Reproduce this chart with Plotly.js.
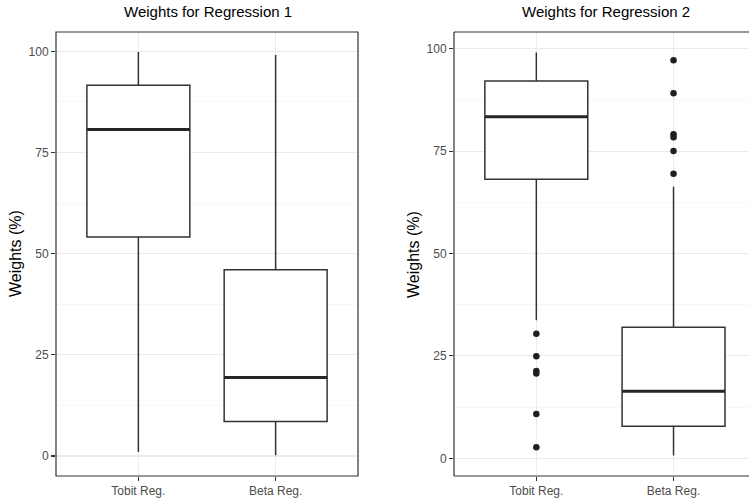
<!DOCTYPE html>
<html>
<head>
<meta charset="utf-8">
<script src="https://cdn.plot.ly/plotly-3.0.1.min.js"></script>
<style>html,body{margin:0;padding:0;background:#fff;}#chart{width:749px;height:502px;}</style>
</head>
<body>
<div id="chart"></div>
<script>
// Categories and tick labels
const categories = [1, 2];
const tickLabels = ["Tobit Reg.", "Beta Reg."];
const panelTitles = ["Weights for Regression 1", "Weights for Regression 2"];
const yTitle = "Weights (%)";

// Regression 1 box statistics (Tobit, Beta)
const r1Lower  = [1.0, 0.2];
const r1Q1     = [54.1, 8.5];
const r1Median = [80.7, 19.4];
const r1Q3     = [91.6, 46.0];
const r1Upper  = [99.8, 99.1];

// Regression 2 box statistics (Tobit, Beta)
const r2Lower  = [33.7, 0.7];
const r2Q1     = [68.1, 7.8];
const r2Median = [83.4, 16.4];
const r2Q3     = [92.1, 32.0];
const r2Upper  = [99.1, 66.3];

// Regression 2 outliers
const r2TobitOutliers = [30.4, 24.9, 21.3, 20.7, 10.8, 2.7];
const r2BetaOutliers  = [97.2, 89.1, 79.1, 78.4, 75.0, 69.5];

const lineCol = "#333333";
const boxW = 0.75;

function boxTrace(q1, med, q3, lo, hi, xa, ya) {
  return {
    type: "box", x: categories, q1: q1, median: med, q3: q3,
    lowerfence: lo, upperfence: hi, width: boxW, whiskerwidth: 0,
    fillcolor: "#ffffff", line: {color: lineCol, width: 1.5},
    boxpoints: false, xaxis: xa, yaxis: ya, showlegend: false, hoverinfo: "skip"
  };
}
function medianTrace(med, xa, ya) {
  const xs = [], ys = [];
  categories.forEach((c, i) => {
    xs.push(c - boxW / 2, c + boxW / 2, null);
    ys.push(med[i], med[i], null);
  });
  return {type: "scatter", mode: "lines", x: xs, y: ys,
    line: {color: "#262626", width: 3}, xaxis: xa, yaxis: ya,
    showlegend: false, hoverinfo: "skip"};
}
function outlierTrace(vals, cat, xa, ya) {
  return {type: "scatter", mode: "markers", x: vals.map(() => cat), y: vals,
    marker: {color: "#1f1f1f", size: 6.5}, xaxis: xa, yaxis: ya,
    showlegend: false, hoverinfo: "skip"};
}

const data = [
  boxTrace(r1Q1, r1Median, r1Q3, r1Lower, r1Upper, "x", "y"),
  medianTrace(r1Median, "x", "y"),
  boxTrace(r2Q1, r2Median, r2Q3, r2Lower, r2Upper, "x2", "y2"),
  medianTrace(r2Median, "x2", "y2"),
  outlierTrace(r2TobitOutliers, categories[0], "x2", "y2"),
  outlierTrace(r2BetaOutliers, categories[1], "x2", "y2")
];

const font = {family: "Liberation Sans, Arial, sans-serif"};
function xAxis(domain, range, anchor) {
  return {
    domain: domain, range: range, anchor: anchor,
    tickmode: "array", tickvals: categories, ticktext: tickLabels,
    showgrid: true, gridcolor: "#ebebeb", gridwidth: 1.1,
    zeroline: false, showline: false,
    ticks: "outside", ticklen: 4, tickcolor: lineCol, tickwidth: 1.1,
    tickfont: {family: font.family, size: 12, color: "#4d4d4d"}
  };
}
function yAxis(domain, range, anchor) {
  return {
    domain: domain, range: range, anchor: anchor,
    tickmode: "array", tickvals: [0, 25, 50, 75, 100],
    showgrid: true, gridcolor: "#ebebeb", gridwidth: 1.1,
    minor: {tickvals: [12.5, 37.5, 62.5, 87.5], showgrid: true, gridcolor: "#f2f2f2", gridwidth: 0.6, ticks: ""},
    zeroline: false, showline: false,
    ticks: "outside", ticklen: 4, tickcolor: lineCol, tickwidth: 1.1,
    tickfont: {family: font.family, size: 12, color: "#4d4d4d"}
  };
}

const yDom = [26 / 502, 470 / 502];
const x1Dom = [56 / 749, 358 / 749];
const x2Dom = [454 / 749, 1];

const layout = {
  width: 749, height: 502,
  margin: {l: 0, r: 0, t: 0, b: 0},
  paper_bgcolor: "#ffffff", plot_bgcolor: "#ffffff",
  font: font,
  showlegend: false,
  xaxis: xAxis(x1Dom, [0.4, 2.6], "y"),
  yaxis: yAxis(yDom, [-4.95, 104.77], "x"),
  xaxis2: xAxis(x2Dom, [0.4, 2.55], "y2"),
  yaxis2: yAxis(yDom, [-4.32, 104.08], "x2"),
  shapes: [
    {type: "rect", xref: "x domain", yref: "y domain", x0: 0, x1: 1, y0: 0, y1: 1,
     line: {color: lineCol, width: 1.2}, fillcolor: "rgba(0,0,0,0)", layer: "above"},
    {type: "line", xref: "x2 domain", yref: "y2 domain", x0: 0, x1: 1, y0: 1, y1: 1,
     line: {color: lineCol, width: 1.2}, layer: "above"},
    {type: "line", xref: "x2 domain", yref: "y2 domain", x0: 0, x1: 1, y0: 0, y1: 0,
     line: {color: lineCol, width: 1.2}, layer: "above"},
    {type: "line", xref: "x2 domain", yref: "y2 domain", x0: 0, x1: 0, y0: 0, y1: 1,
     line: {color: lineCol, width: 1.2}, layer: "above"}
  ],
  annotations: [
    {text: panelTitles[0], xref: "paper", yref: "paper", x: 208 / 749, y: 1 - 12 / 502,
     xanchor: "center", yanchor: "middle", showarrow: false, font: {family: font.family, size: 15, color: "#000"}},
    {text: panelTitles[1], xref: "paper", yref: "paper", x: 606 / 749, y: 1 - 12 / 502,
     xanchor: "center", yanchor: "middle", showarrow: false, font: {family: font.family, size: 15, color: "#000"}},
    {text: yTitle, xref: "paper", yref: "paper", x: 15 / 749, y: (yDom[0] + yDom[1]) / 2, textangle: -90,
     xanchor: "center", yanchor: "middle", showarrow: false, font: {family: font.family, size: 16, color: "#000"}},
    {text: yTitle, xref: "paper", yref: "paper", x: 413 / 749, y: (yDom[0] + yDom[1]) / 2, textangle: -90,
     xanchor: "center", yanchor: "middle", showarrow: false, font: {family: font.family, size: 16, color: "#000"}}
  ]
};

Plotly.newPlot("chart", data, layout, {staticPlot: true, displayModeBar: false});
</script>
</body>
</html>
